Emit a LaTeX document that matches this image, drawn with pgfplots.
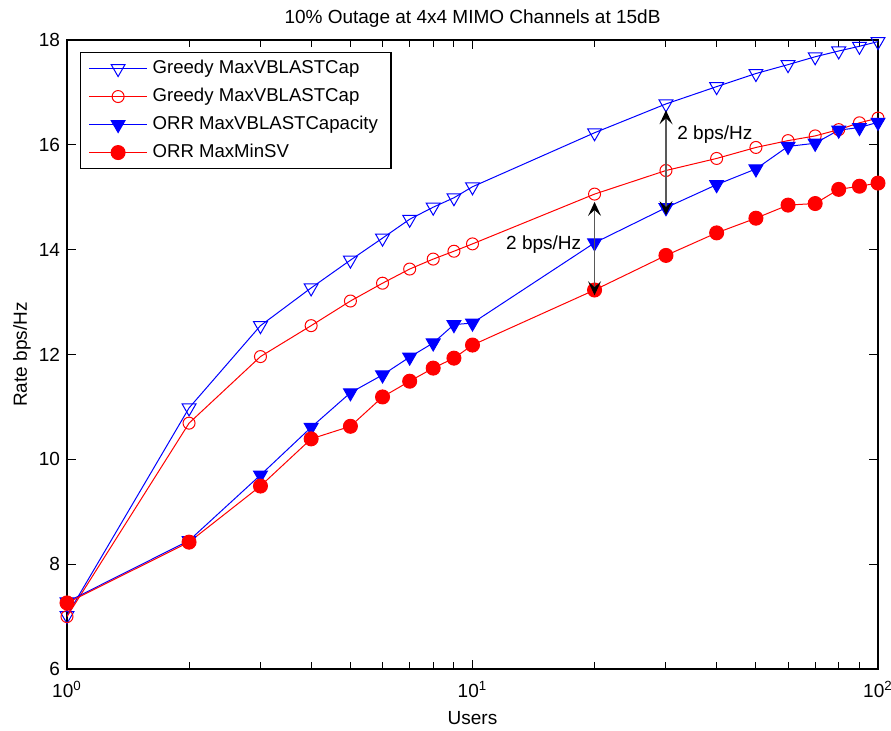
\documentclass[border=0pt]{standalone}
\usepackage{pgfplots}
\pgfplotsset{compat=1.18}
\usepackage{pgfplotstable}
\usepackage{fontspec}
\setmainfont{Liberation Sans}
\usetikzlibrary{arrows.meta}

% users, greedy (tri), greedy (circ), ORR (tri), ORR MaxMinSV
\pgfplotstableread{
x    ga     gb     oa     ob
1    7.02   7.00   7.28   7.26
2    10.98  10.69  8.45   8.42
3    12.55  11.96  9.70   9.49
4    13.27  12.55  10.61  10.39
5    13.80  13.02  11.27  10.63
6    14.22  13.36  11.61  11.19
7    14.58  13.63  11.95  11.49
8    14.81  13.82  12.22  11.74
9    14.99  13.97  12.57  11.93
10   15.20  14.11  12.60  12.18
20   16.23  15.06  14.13  13.23
30   16.78  15.51  14.80  13.89
40   17.11  15.74  15.24  14.32
50   17.36  15.95  15.54  14.60
60   17.53  16.08  15.97  14.85
70   17.68  16.17  16.03  14.88
80   17.79  16.29  16.28  15.15
90   17.88  16.42  16.33  15.21
100  17.97  16.51  16.43  15.27
}\datatab

\tikzset{bps/.style={gray!70!black, line width=0.6pt,
    {Stealth[black,length=7pt,width=6.5pt,inset=3pt]}-{Stealth[black,length=7pt,width=6.5pt,inset=3pt]}}}

\begin{document}
\begin{tikzpicture}
\path[use as bounding box] (-33.5pt,-31pt) rectangle (412pt,334.5pt);
\begin{semilogxaxis}[
    scale only axis,
    width=405.5pt, height=314.5pt,
    xmin=1, xmax=100, ymin=6, ymax=18,
    ytick={6,8,...,18},
    xtick={1,10,100},
    xticklabels={10\textsuperscript{0},10\textsuperscript{1},10\textsuperscript{2}},
    /pgf/number format/assume math mode=true,
    tick label style={font=\fontsize{9.5}{11}\selectfont},
    xticklabel style={yshift=-2.5pt},
    label style={font=\fontsize{9.5}{11}\selectfont},
    title style={font=\fontsize{9.5}{11}\selectfont, yshift=-3.5pt},
    title={10\% Outage at 4x4 MIMO Channels at 15dB},
    xlabel={Users},
    ylabel={Rate bps/Hz},
    xlabel style={at={(axis description cs:0.5,-0.078)}, anchor=center},
    ylabel style={at={(axis description cs:-0.0555,0.5)}, anchor=center},
    axis line style={line width=0.7pt},
    major tick length=4.5pt, minor tick length=3.5pt,
    every tick/.style={black, line width=0.5pt},
    legend cell align=left,
    legend style={at={(0.016,0.981)}, anchor=north west, draw=black, line width=0.6pt,
        fill=white, font=\fontsize{9.3}{11}\selectfont,
        nodes={text height=7pt, text depth=2pt, inner sep=2.5pt},
        inner xsep=4pt, inner ysep=1pt},
    legend image code/.code={\draw[mark repeat=2,mark phase=2]
        plot coordinates {(0cm,0cm) (0.51cm,0cm) (1.02cm,0cm)};},
]
\addplot[blue, line width=0.5pt, mark=triangle, mark size=4pt,
    mark options={rotate=180, solid}] table[x=x,y=ga] {\datatab};
\addplot[red, line width=0.5pt, mark=o, mark size=3pt] table[x=x,y=gb] {\datatab};
\addplot[blue, line width=0.5pt, mark=triangle*, mark size=4pt,
    mark options={rotate=180, fill=blue}] table[x=x,y=oa] {\datatab};
\addplot[red, line width=0.5pt, mark=*, mark size=3.5pt,
    mark options={fill=red}] table[x=x,y=ob] {\datatab};
\legend{Greedy MaxVBLASTCap, Greedy MaxVBLASTCap, ORR MaxVBLASTCapacity, ORR MaxMinSV}

\coordinate (a1) at (axis cs:20,14.91);
\coordinate (b1) at (axis cs:20,13.13);
\coordinate (t1) at (axis cs:20,14.1);
\coordinate (a2) at (axis cs:30,16.66);
\coordinate (b2) at (axis cs:30,14.66);
\coordinate (t2) at (axis cs:30,16.19);
\end{semilogxaxis}
\draw[bps] (a1) -- (b1);
\draw[bps] (a2) -- (b2);
\node[anchor=east, inner sep=0pt, font=\fontsize{9.5}{11}\selectfont]
    at (t1) [xshift=-6.5pt] {2 bps/Hz};
\node[anchor=west, inner sep=0pt, font=\fontsize{9.5}{11}\selectfont]
    at (t2) [xshift=5.5pt] {2 bps/Hz};
\end{tikzpicture}
\end{document}
